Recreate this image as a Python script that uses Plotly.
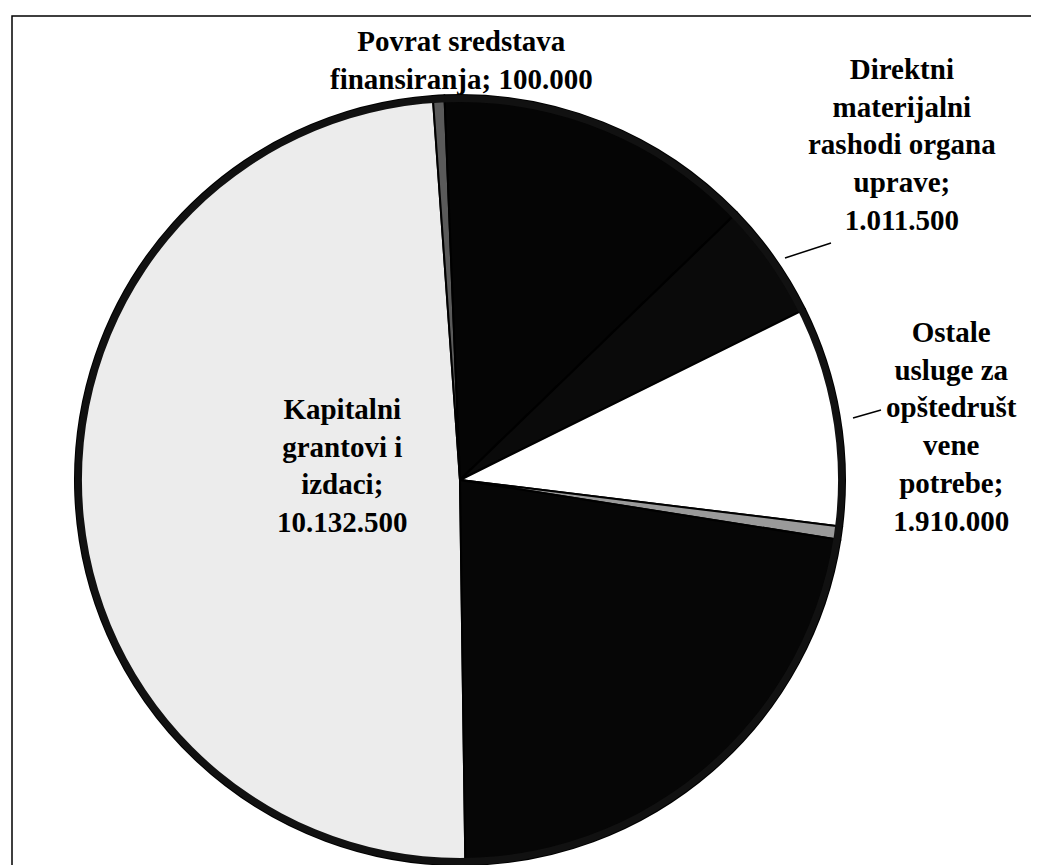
import plotly.graph_objects as go

# Categories in drawing order (clockwise, starting at 6 o'clock)
categories = [
    "Kapitalni grantovi i izdaci",
    "Povrat sredstava finansiranja",
    "Neoznačeno (crni isječak gore)",
    "Direktni materijalni rashodi organa uprave",
    "Ostale usluge za opštedruštvene potrebe",
    "Neoznačeno (tanki isječak)",
    "Neoznačeno (crni isječak dolje)",
]
values = [10132500, 100000, 2770000, 1011500, 1910000, 115000, 4600000]
# wrapped label text as printed on the chart (None = label not readable)
label_lines = [
    ["Kapitalni", "grantovi i", "izdaci;"],
    ["Povrat sredstava", "finansiranja;"],
    None,
    ["Direktni", "materijalni", "rashodi organa", "uprave;"],
    ["Ostale", "usluge za", "opštedrušt", "vene", "potrebe;"],
    None,
    None,
]
colors = ["#ececec", "#5a5a5a", "#050505", "#0a0a0a", "#ffffff", "#9a9a9a", "#060606"]

W, H = 1039, 865
cx, cy, R = 452, 472, 385


def fmt(v):
    return f"{v:,}".replace(",", ".")


def px(x):
    return x / W


def py(y):
    return 1 - y / H


dom = dict(x=[px(cx - R), px(cx + R)], y=[py(cy + R), py(cy - R)])

fig = go.Figure(go.Pie(
    labels=categories,
    values=values,
    sort=False,
    direction="clockwise",
    rotation=179.2,
    marker=dict(colors=colors, line=dict(color="#000000", width=2)),
    textinfo="none",
    hoverinfo="label+value",
    showlegend=False,
    domain=dom,
))

# dark rim around the pie (bevel edge of the original)
fig.add_trace(go.Pie(
    values=[sum(values)],
    labels=["rub"],
    hole=0.982,
    marker=dict(colors=["#111111"], line=dict(width=0)),
    textinfo="none",
    hoverinfo="skip",
    showlegend=False,
    domain=dom,
))

# label anchor positions (pixels) for readable labels
label_pos = {0: (334, 458), 1: (453, 52), 3: (894, 136), 4: (943, 419)}
font = dict(family="Liberation Serif, Times New Roman, serif", size=29, color="#000000")
for i, (x, y) in label_pos.items():
    lines = label_lines[i]
    if i == 1:
        text = lines[0] + "<br>" + lines[1] + " " + fmt(values[i])
    else:
        text = "<br>".join(lines) + "<br>" + fmt(values[i])
    fig.add_annotation(
        x=px(x), y=py(y), xref="paper", yref="paper",
        text="<b>" + text + "</b>", showarrow=False,
        xanchor="center", yanchor="middle", align="center", font=font,
    )

# leader lines
for (x0, y0, x1, y1) in [(777, 250, 823, 235), (845, 410, 873, 402)]:
    fig.add_shape(type="line", xref="paper", yref="paper",
                  x0=px(x0), y0=py(y0), x1=px(x1), y1=py(y1),
                  line=dict(color="#000000", width=1.5))

# chart frame
fig.add_shape(type="rect", xref="paper", yref="paper",
              x0=px(4), y0=py(862), x1=px(1035), y1=py(8),
              line=dict(color="#000000", width=1.5))

fig.update_layout(
    width=W, height=H,
    margin=dict(l=0, r=0, t=0, b=0),
    paper_bgcolor="#ffffff",
    plot_bgcolor="#ffffff",
)

fig.write_html("out.html")
